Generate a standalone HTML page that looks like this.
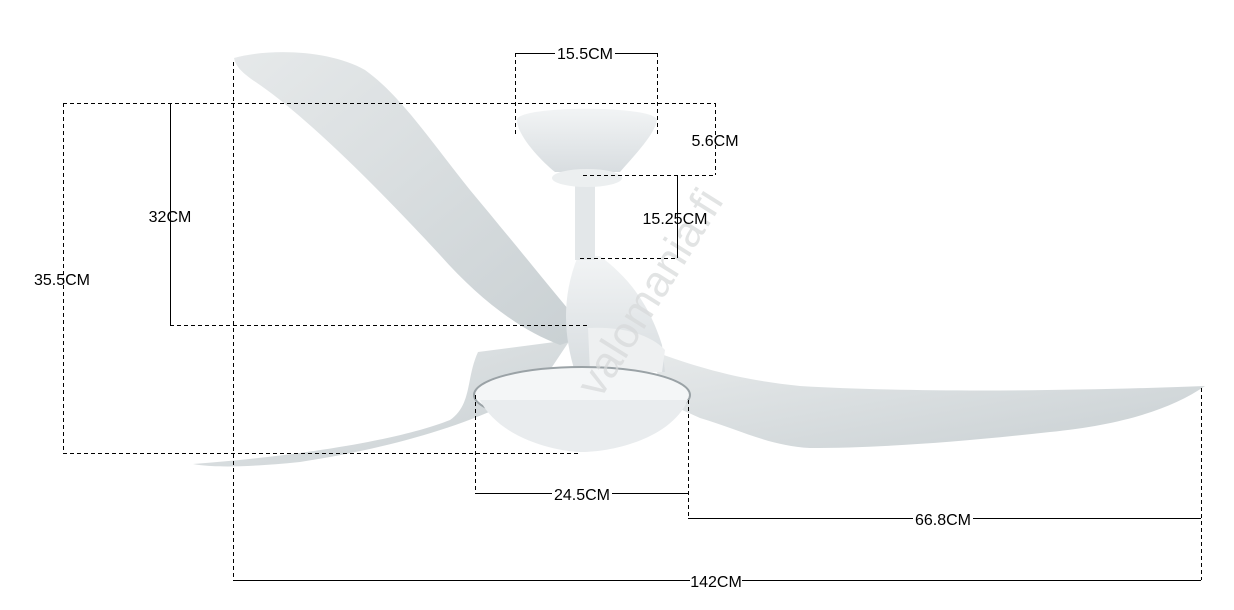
<!DOCTYPE html>
<html><head><meta charset="utf-8"><style>
html,body{margin:0;padding:0;background:#fff;}
svg{display:block;}
text{font-family:"Liberation Sans",Arial,sans-serif;font-size:16px;fill:#000;}
</style></head><body>
<svg width="1234" height="610" viewBox="0 0 1234 610" xmlns="http://www.w3.org/2000/svg">
<defs>
<linearGradient id="bl" x1="0" y1="0" x2="1" y2="1">
<stop offset="0" stop-color="#e6e9ea"/><stop offset="1" stop-color="#c9d0d3"/></linearGradient>
<linearGradient id="bw" x1="0" y1="0" x2="0" y2="1">
<stop offset="0" stop-color="#f2f4f5"/><stop offset="1" stop-color="#d8dde0"/></linearGradient>
</defs>
<!-- bottom-left blade -->
<path d="M193,464 C300,456 400,440 450,420 C472,405 466,378 478,352 L570,340 L540,385 C480,425 380,450 300,462 C250,467 215,468 193,464 Z" fill="url(#bl)"/>
<!-- left blade -->
<path d="M234,58 C270,48 330,50 365,70 C400,95 430,140 470,190 C520,250 560,300 590,335 L560,345 C520,330 480,300 440,255 C380,190 310,120 260,85 C245,75 236,68 234,58 Z" fill="url(#bl)"/>
<!-- right blade -->
<path d="M655,352 C700,368 740,380 800,386 C900,392 1050,392 1205,386 C1170,410 1120,425 1050,432 C960,442 880,448 810,448 C770,446 740,430 700,418 L660,400 Z" fill="url(#bl)"/>
<!-- motor housing -->
<path d="M578,256 L600,256 C625,275 648,300 662,345 L665,372 L575,372 C565,340 560,300 578,256 Z" fill="url(#bw)"/>
<path d="M588,328 C625,326 652,336 665,350 L662,372 L590,372 Z" fill="#eef0f1"/>
<!-- downrod -->
<rect x="575" y="180" width="20" height="80" fill="#e3e7e9"/>
<!-- canopy -->
<path d="M517,120 C517,105 655,105 657,120 C655,135 630,160 620,172 L555,172 C540,160 517,135 517,120 Z" fill="url(#bw)"/>
<ellipse cx="587" cy="178" rx="35" ry="9" fill="#eceff0"/>
<!-- light bowl -->
<ellipse cx="582" cy="395" rx="108" ry="28" fill="#f4f6f7" stroke="#9aa2a6" stroke-width="2"/>
<path d="M480,400 C500,440 560,452 582,452 C610,452 670,440 688,400 Z" fill="#e9ecee"/>
<!-- watermark -->
<text x="0" y="0" transform="translate(600,400) rotate(-58)" style="font-size:44px;fill:#d7d9da;opacity:0.7">valomania.fi</text>
<!-- dimension lines -->
<g stroke="#000" stroke-width="1" fill="none">
<g stroke-dasharray="4,3">
<line x1="515.5" y1="53" x2="515.5" y2="136"/>
<line x1="657.5" y1="53" x2="657.5" y2="136"/>
<line x1="63" y1="103.5" x2="715" y2="103.5"/>
<line x1="715.5" y1="103" x2="715.5" y2="175"/>
<line x1="583" y1="175.5" x2="715" y2="175.5"/>
<line x1="580" y1="258.5" x2="677" y2="258.5"/>
<line x1="170" y1="325.5" x2="590" y2="325.5"/>
<line x1="63.5" y1="103" x2="63.5" y2="453"/>
<line x1="63" y1="453.5" x2="580" y2="453.5"/>
<line x1="233.5" y1="62" x2="233.5" y2="580"/>
<line x1="1201.5" y1="388" x2="1201.5" y2="580"/>
<line x1="475.5" y1="395" x2="475.5" y2="493"/>
<line x1="688.5" y1="400" x2="688.5" y2="518"/>
</g>
<line x1="515" y1="53.5" x2="555" y2="53.5"/>
<line x1="615" y1="53.5" x2="657" y2="53.5"/>
<line x1="677.5" y1="175" x2="677.5" y2="258"/>
<line x1="170.5" y1="103" x2="170.5" y2="325"/>
<line x1="475" y1="493.5" x2="552" y2="493.5"/>
<line x1="612" y1="493.5" x2="688" y2="493.5"/>
<line x1="688" y1="518.5" x2="913" y2="518.5"/>
<line x1="973" y1="518.5" x2="1201" y2="518.5"/>
<line x1="233" y1="580.5" x2="690" y2="580.5"/>
<line x1="742" y1="580.5" x2="1201" y2="580.5"/>
</g>
<g text-anchor="middle">
<text x="585" y="59">15.5CM</text>
<text x="715" y="146">5.6CM</text>
<text x="675" y="224">15.25CM</text>
<text x="170" y="222">32CM</text>
<text x="62" y="285">35.5CM</text>
<text x="582" y="500">24.5CM</text>
<text x="943" y="525">66.8CM</text>
<text x="716" y="587">142CM</text>
</g>
</svg>
</body></html>
